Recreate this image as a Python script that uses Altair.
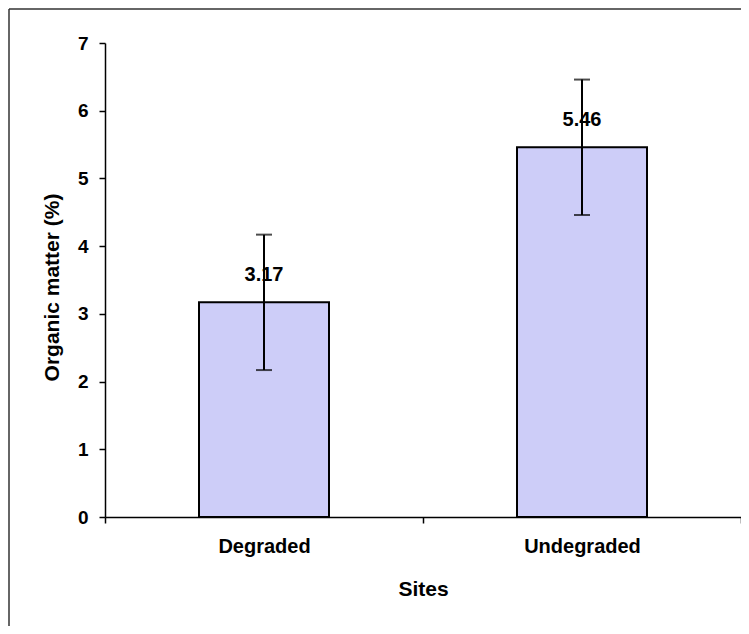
import altair as alt
import pandas as pd

categories = ["Degraded", "Undegraded"]
values = [3.17, 5.46]
errors = [1.0, 1.0]
y_ticks = [0, 1, 2, 3, 4, 5, 6, 7]

df = pd.DataFrame({
    "site": categories,
    "value": values,
    "lower": [v - e for v, e in zip(values, errors)],
    "upper": [v + e for v, e in zip(values, errors)],
    "label": [f"{v:.2f}" for v in values],
})

FONT = "Liberation Sans"

x_axis = alt.Axis(
    title="Sites", labelAngle=0, tickBand="extent", tickSize=6, tickWidth=1.5,
    domainWidth=1.5, domainColor="black", tickColor="black",
    labelFont=FONT, labelFontWeight="bold", labelFontSize=20, labelColor="black",
    labelPadding=13, titleFont=FONT, titleFontWeight="bold", titleFontSize=21,
    titleColor="black", titleY=72, titleBaseline="middle", grid=False,
)
y_axis = alt.Axis(
    title="Organic matter (%)", values=y_ticks, tickSize=6, tickWidth=1.5,
    domainWidth=1.5, domainColor="black", tickColor="black",
    labelFont=FONT, labelFontWeight="bold", labelFontSize=19, labelColor="black",
    labelPadding=11, titleFont=FONT, titleFontWeight="bold", titleFontSize=21,
    titleColor="black", titleX=-53, titleY=244, titleAngle=270,
    titleAlign="center", titleBaseline="middle", grid=False,
)

x_enc = alt.X("site:N", sort=categories,
              scale=alt.Scale(paddingInner=0, paddingOuter=0), axis=x_axis)
y_scale = alt.Scale(domain=[0, 7], nice=False)

base = alt.Chart(df)

bars = base.mark_bar(
    width=alt.RelativeBandSize(130 / 318), fill="#cdcdf8",
    stroke="black", strokeWidth=2,
).encode(x=x_enc, y=alt.Y("value:Q", scale=y_scale, axis=y_axis))

labels = base.mark_text(
    dy=-27, font=FONT, fontWeight="bold", fontSize=20, color="black",
    align="center", baseline="middle",
).encode(x=x_enc, y=alt.Y("value:Q", scale=y_scale, axis=y_axis), text="label:N")

err = base.mark_rule(color="black", strokeWidth=2).encode(
    x=x_enc, y=alt.Y("lower:Q", scale=y_scale, axis=y_axis), y2="upper:Q")

cap_top = base.mark_tick(color="black", size=16, thickness=2).encode(
    x=x_enc, y=alt.Y("upper:Q", scale=y_scale, axis=y_axis))
cap_bot = base.mark_tick(color="black", size=16, thickness=2).encode(
    x=x_enc, y=alt.Y("lower:Q", scale=y_scale, axis=y_axis))

frame_data = alt.Data(values=[{"f": 1}])
frame_left = alt.Chart(frame_data).mark_rule(color="#333333", strokeWidth=1.5).encode(
    x=alt.value(-96), y=alt.value(-34), y2=alt.value(583))
frame_top = alt.Chart(frame_data).mark_rule(color="#333333", strokeWidth=1.5).encode(
    x=alt.value(-96), x2=alt.value(636), y=alt.value(-34))

chart = alt.layer(bars, labels, err, cap_top, cap_bot, frame_left, frame_top).properties(
    width=636, height=474,
    padding={"left": 97, "top": 35, "right": 0, "bottom": 109},
    autosize=alt.AutoSizeParams(type="none"),
    background="white",
).configure_view(stroke=None)

chart.save("out.html", embed_options={"renderer": "svg", "actions": False})
